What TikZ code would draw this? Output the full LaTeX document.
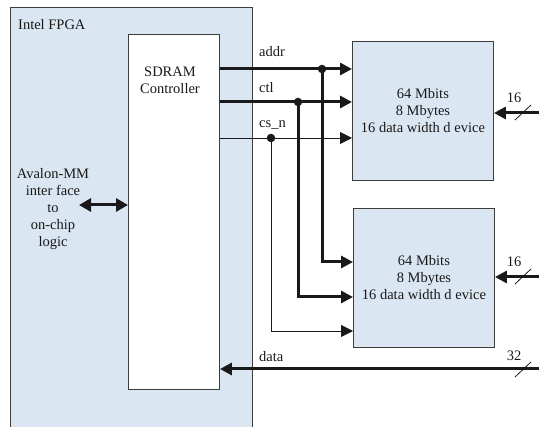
\documentclass[tikz,border=0pt]{standalone}
\usepackage{fontspec}
\setmainfont{Liberation Serif}
\usetikzlibrary{arrows.meta}

\definecolor{chipblue}{RGB}{218,230,242}
\definecolor{edgegray}{RGB}{60,60,60}
\definecolor{ink}{RGB}{25,25,25}

\begin{document}
\begin{tikzpicture}[
    x=1pt, y=-1pt,
    every node/.style={font=\fontsize{14.5}{17}\selectfont, text=ink, inner sep=0pt},
    blk/.style={draw=edgegray, line width=.9pt},
    bus/.style={draw=ink, line width=3pt, -{Triangle[length=12pt,width=12pt]}},
    wire/.style={draw=ink, line width=.8pt, -{Triangle[length=12pt,width=12pt]}},
    dbl/.style={draw=ink, line width=3pt,
        {Triangle[length=12pt,width=13pt]}-{Triangle[length=12pt,width=13pt]}},
    tap/.style={fill=ink, circle, minimum size=8.5pt},
    slash/.style={draw=ink, line width=.8pt}]
    \useasboundingbox (0,0) rectangle (539,427);

    % FPGA area, open at the bottom.
    \node[fill=chipblue, minimum width=242pt, minimum height=440pt,
        anchor=north west] (fpga) at (10,7) {};
    \draw[edgegray, line width=.9pt]
        (fpga.south west) -- (fpga.north west) -- (fpga.north east) -- (fpga.south east);
    \node[anchor=base west] (fpgalbl) at (18,30) {Intel FPGA};

    % Controller and the two memories.
    \node[blk, fill=white, minimum width=91pt, minimum height=355pt,
        anchor=north west] (ctrl) at (128,34) {};
    \node[align=center] (ctrllbl) at (170,80) {SDRAM\\Controller};
    \node[blk, fill=chipblue, align=center, minimum width=141pt, minimum height=139pt,
        anchor=north west] (mem1) at (352,41) {64 Mbits\\8 Mbytes\\16 data width d evice};
    \node[blk, fill=chipblue, align=center, minimum width=141pt, minimum height=139pt,
        anchor=north west] (mem2) at (353,208) {64 Mbits\\8 Mbytes\\16 data width d evice};

    % Avalon side.
    \node[align=center] (avalon) at (53,209) {Avalon-MM\\inter face\\to\\on-chip\\logic};
    \coordinate (onchip) at (79,205);
    \draw[dbl] (onchip) -- (ctrl.west |- onchip);

    % Taps on the shared lines.
    \node[tap] (addrtap) at (322,69) {};
    \node[tap] (ctltap) at (298,102) {};
    \node[tap] (cstap) at (271,138) {};

    % addr, ctl and cs_n.
    \draw[bus] (ctrl.east |- addrtap) -- (mem1.west |- addrtap);
    \draw[bus] (addrtap.center) |- (mem2.west |- 0,262);
    \draw[bus] (ctrl.east |- ctltap) -- (mem1.west |- ctltap);
    \draw[bus] (ctltap.center) |- (mem2.west |- 0,297);
    \draw[wire] (ctrl.east |- cstap) -- (mem1.west |- cstap);
    \draw[wire] (cstap.center) |- (mem2.west |- 0,331);
    \node[anchor=base west] (addrlbl) at (259,57) {addr};
    \node[anchor=base west] (ctllbl) at (259,93) {ctl};
    \node[anchor=base west] (cslbl) at (259,128) {cs\_n};

    % Data pins of the memories.
    \coordinate (pin1) at (539,113);
    \coordinate (pin2) at (539,277);
    \draw[bus] (pin1) -- (mem1.east |- pin1);
    \draw[bus] (pin2) -- (mem2.east |- pin2);
    \draw[slash] (515,120) -- (531,105);
    \draw[slash] (515,284) -- (531,269);
    \node (w1) at (514,98) {16};
    \node (w2) at (514,262) {16};

    % Data bus back to the controller.
    \coordinate (datain) at (539,369);
    \draw[bus] (datain) -- (ctrl.east |- datain);
    \draw[slash] (515,377) -- (531,362);
    \node (w3) at (514,356) {32};
    \node[anchor=base west] (datalbl) at (259,362) {data};
\end{tikzpicture}
\end{document}
